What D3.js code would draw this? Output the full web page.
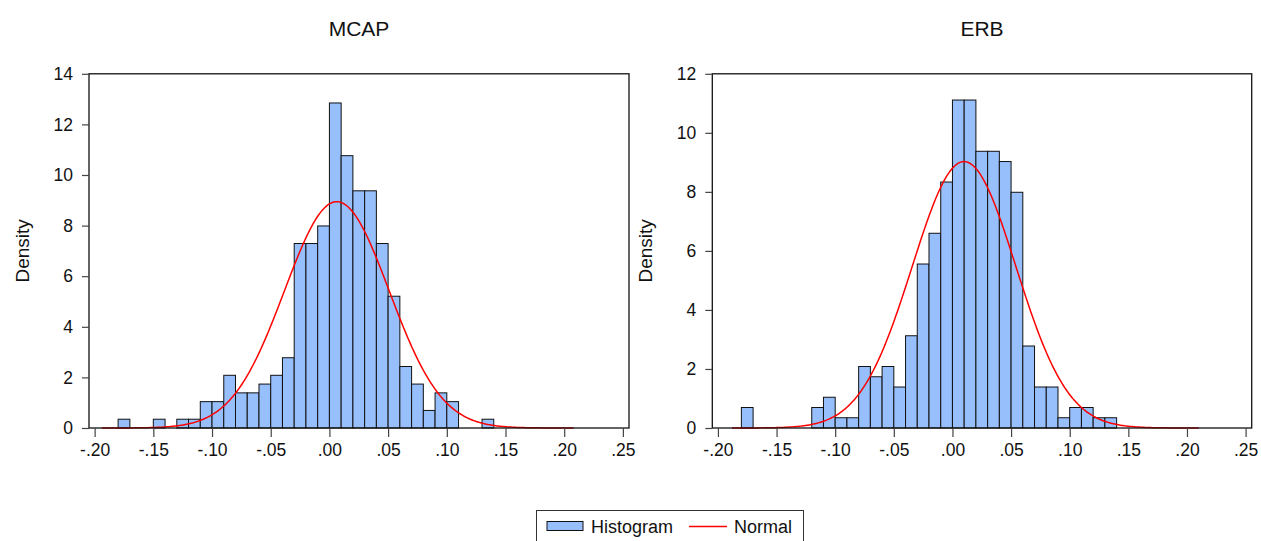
<!DOCTYPE html>
<html>
<head>
<meta charset="utf-8">
<script src="https://cdn.jsdelivr.net/npm/d3@7/dist/d3.min.js"></script>
<style>
  html, body { margin: 0; padding: 0; background: #fff; }
  svg { display: block; font-family: "Liberation Sans", Arial, sans-serif; }
</style>
</head>
<body>
<svg id="chart" width="1261" height="541"></svg>
<script>
// Histogram bins: lower edge of each 0.01-wide bin
const binStarts = [-0.18, -0.17, -0.16, -0.15, -0.14, -0.13, -0.12, -0.11, -0.10, -0.09,
                   -0.08, -0.07, -0.06, -0.05, -0.04, -0.03, -0.02, -0.01, 0.00, 0.01,
                    0.02, 0.03, 0.04, 0.05, 0.06, 0.07, 0.08, 0.09, 0.10, 0.11, 0.12, 0.13];
const binWidth = 0.01;
const nObs = 288;

// Observation counts per bin
const mcapCounts = [1, 0, 0, 1, 0, 1, 1, 3, 3, 6,
                    4, 4, 5, 6, 8, 21, 21, 23, 37, 31,
                    27, 27, 21, 15, 7, 5, 2, 4, 3, 0, 0, 1];
const erbCounts  = [2, 0, 0, 0, 0, 0, 2, 3, 1, 1,
                    6, 5, 6, 4, 9, 16, 19, 24, 32, 32,
                    27, 27, 26, 23, 8, 4, 4, 1, 2, 2, 1, 1];

// Fitted normal parameters and the span the curve is drawn over
const mcapNormal = { mean: 0.0063, sd: 0.0446, from: -0.194, to: 0.208 };
const erbNormal  = { mean: 0.0099, sd: 0.0442, from: -0.188, to: 0.210 };

// Axis ticks
const xTicks = [-0.20, -0.15, -0.10, -0.05, 0.00, 0.05, 0.10, 0.15, 0.20, 0.25];
const mcapYTicks = [0, 2, 4, 6, 8, 10, 12, 14];
const erbYTicks  = [0, 2, 4, 6, 8, 10, 12];

const svg = d3.select("#chart");
const BAR_FILL = "#97bffc";
// ".20" style labels with an ASCII hyphen for negatives
const fmtX = v => (v < -1e-9 ? "-" : "") + "." + Math.round(Math.abs(v) * 100).toString().padStart(2, "0");

function panel(cfg) {
  const x = d3.scaleLinear().domain([-0.2048, 0.2552]).range([cfg.left, cfg.right]);
  const y = d3.scaleLinear().domain([0, cfg.yMax]).range([cfg.bottom, cfg.top]);
  const g = svg.append("g");

  // Bars
  const bins = binStarts.map((s, i) => ({ x0: s, x1: s + binWidth, count: cfg.counts[i] }))
    .filter(d => d.count > 0);
  g.selectAll("rect.bar").data(bins).enter().append("rect")
    .attr("class", "bar")
    .attr("x", d => x(d.x0))
    .attr("width", d => x(d.x1) - x(d.x0))
    .attr("y", d => y(d.count / (nObs * binWidth)))
    .attr("height", d => y(0) - y(d.count / (nObs * binWidth)))
    .attr("fill", BAR_FILL)
    .attr("stroke", "#111")
    .attr("stroke-width", 1);

  // Normal density curve
  const nm = cfg.normal;
  const pts = d3.range(0, 401).map(i => {
    const v = nm.from + (nm.to - nm.from) * i / 400;
    const z = (v - nm.mean) / nm.sd;
    return [v, Math.exp(-0.5 * z * z) / (nm.sd * Math.sqrt(2 * Math.PI))];
  });
  g.append("path")
    .attr("d", d3.line().x(d => x(d[0])).y(d => y(d[1]))(pts))
    .attr("fill", "none")
    .attr("stroke", "#ff0000")
    .attr("stroke-width", 1.5);

  // Frame
  g.append("rect")
    .attr("x", cfg.left).attr("y", y(cfg.yMax))
    .attr("width", cfg.right - cfg.left).attr("height", y(0) - y(cfg.yMax))
    .attr("fill", "none").attr("stroke", "#111").attr("stroke-width", 1.3);

  // X axis
  const xa = g.append("g").attr("transform", `translate(0,${cfg.bottom})`)
    .call(d3.axisBottom(x).tickValues(xTicks).tickSize(9).tickPadding(6).tickFormat(fmtX));
  xa.select(".domain").remove();
  xa.selectAll(".tick line").attr("stroke", "#444").attr("stroke-width", 1.2);
  xa.selectAll(".tick text").attr("font-size", "17.5px").attr("fill", "#111")
    .attr("dy", null).attr("y", 28);

  // Y axis
  const ya = g.append("g").attr("transform", `translate(${cfg.left},0)`)
    .call(d3.axisLeft(y).tickValues(cfg.yTicks).tickSize(7).tickPadding(9).tickFormat(d3.format("d")));
  ya.select(".domain").remove();
  ya.selectAll(".tick line").attr("stroke", "#444").attr("stroke-width", 1.2);
  ya.selectAll(".tick text").attr("font-size", "17.5px").attr("fill", "#111");

  // Title and axis label
  g.append("text")
    .attr("x", (cfg.left + cfg.right) / 2).attr("y", 36)
    .attr("text-anchor", "middle").attr("font-size", "21px").attr("fill", "#111")
    .text(cfg.title);
  g.append("text")
    .attr("transform", `translate(${cfg.left - 60},${(cfg.top + cfg.bottom) / 2}) rotate(-90)`)
    .attr("text-anchor", "middle").attr("font-size", "19px").attr("fill", "#111")
    .text("Density");
}

panel({ title: "MCAP", counts: mcapCounts, normal: mcapNormal, yMax: 14, yTicks: mcapYTicks,
        left: 89, right: 629, top: 73.8, bottom: 428 });
panel({ title: "ERB", counts: erbCounts, normal: erbNormal, yMax: 12, yTicks: erbYTicks,
        left: 712.3, right: 1251.7, top: 73.8, bottom: 428 });

// Legend
const lg = svg.append("g");
lg.append("rect").attr("x", 536.5).attr("y", 510.5).attr("width", 267).attr("height", 40)
  .attr("fill", "#fff").attr("stroke", "#333").attr("stroke-width", 1);
lg.append("rect").attr("x", 547).attr("y", 521.5).attr("width", 36).attr("height", 9)
  .attr("fill", BAR_FILL).attr("stroke", "#111").attr("stroke-width", 1);
lg.append("text").attr("x", 591).attr("y", 533).attr("font-size", "18px").attr("fill", "#111")
  .text("Histogram");
lg.append("line").attr("x1", 689).attr("x2", 727).attr("y1", 526.5).attr("y2", 526.5)
  .attr("stroke", "#ff0000").attr("stroke-width", 1.5);
lg.append("text").attr("x", 734).attr("y", 533).attr("font-size", "18px").attr("fill", "#111")
  .text("Normal");
</script>
</body>
</html>
